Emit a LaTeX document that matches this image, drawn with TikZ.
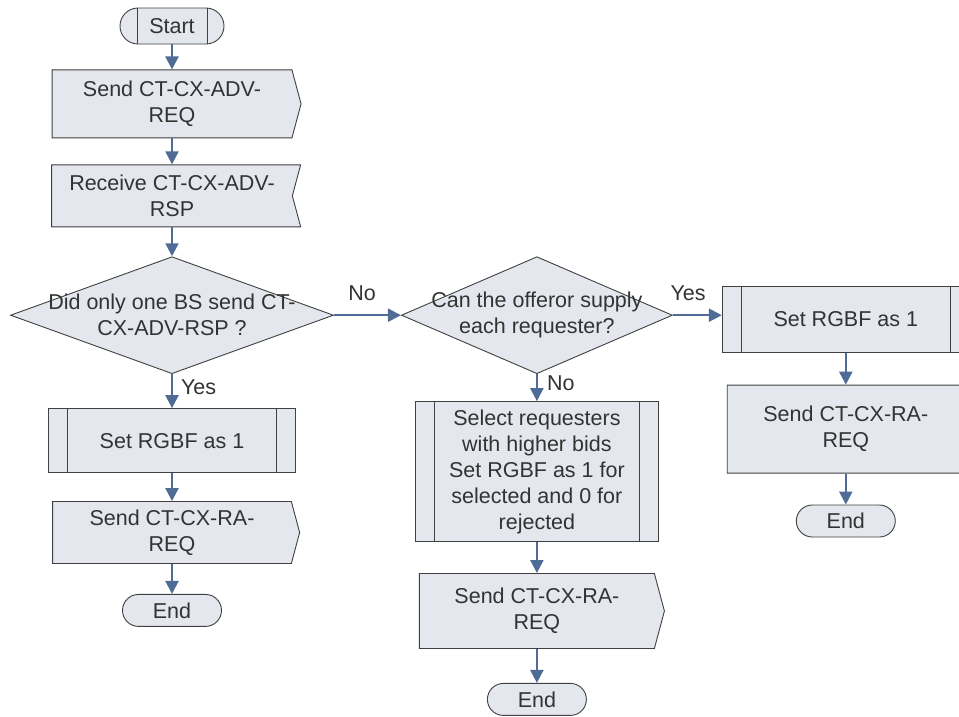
\documentclass[tikz,border=0pt]{standalone}
\usepackage{fontspec}
\setmainfont{Liberation Sans}
\usetikzlibrary{positioning,shapes.geometric,shapes.symbols,shapes.misc,arrows.meta}
\definecolor{boxfill}{RGB}{228,231,238}
\definecolor{boxline}{RGB}{64,64,64}
\definecolor{flow}{RGB}{79,108,150}
\definecolor{txt}{RGB}{51,51,51}

\begin{document}
\begin{tikzpicture}[x=1pt, y=-1pt, node distance=30pt,
  every node/.style={font=\fontsize{21.5}{26}\selectfont, text=txt},
  base/.style={draw=boxline, fill=boxfill, line width=0.9pt, align=center, inner sep=0pt},
  term/.style={base, rounded rectangle, minimum width=99pt, minimum height=32pt},
  startbox/.style={term, minimum width=104pt, minimum height=36pt,
    path picture={\draw[boxline, line width=0.9pt]
      ([xshift=17pt]path picture bounding box.north west) -- ([xshift=17pt]path picture bounding box.south west)
      ([xshift=-17pt]path picture bounding box.north east) -- ([xshift=-17pt]path picture bounding box.south east);}},
  send/.style={base, signal, signal to=east, signal pointer angle=150, minimum width=249pt, minimum height=68pt},
  recv/.style={base, signal, signal to=nowhere, signal from=east, signal pointer angle=150, minimum width=249pt, minimum height=62pt},
  proc/.style={base, rectangle, minimum width=247pt, minimum height=65pt,
    path picture={\draw[boxline, line width=0.9pt]
      ([xshift=19pt]path picture bounding box.north west) -- ([xshift=19pt]path picture bounding box.south west)
      ([xshift=-19pt]path picture bounding box.north east) -- ([xshift=-19pt]path picture bounding box.south east);}},
  decision/.style={base, diamond, minimum width=323pt, minimum height=117pt},
  flowline/.style={draw=flow, line width=2.2pt, -{Triangle[width=13pt,length=13pt]}},
  answer/.style={inner sep=0pt}]
\useasboundingbox (0,0) rectangle (959,716);

% left column
\node[startbox] (start) at (172,26) {Start};
\node[send, below=25pt of start] (advreq) {Send CT-CX-ADV-\\REQ};
\node[recv, below=26pt of advreq] (advrsp) {Receive CT-CX-ADV-\\RSP};
\node[decision, below=29pt of advrsp,
  label={[align=center]center:Did only one BS send CT-\\CX-ADV-RSP ?}] (onebs) {};
\node[proc, below=34pt of onebs, minimum height=64pt] (setl) {Set RGBF as 1};
\node[send, below=28pt of setl, minimum width=247pt, minimum height=62pt] (ral) {Send CT-CX-RA-\\REQ};
\node[term, below=30pt of ral] (endl) {End};

% middle column
\node[decision, right=67pt of onebs, minimum width=271pt,
  label={[align=center]center:Can the offeror supply\\each requester?}] (supply) {};
\node[proc, below=27pt of supply, minimum width=243pt, minimum height=140pt] (select)
  {Select requesters\\with higher bids\\Set RGBF as 1 for\\selected and 0 for\\rejected};
\node[send, below=31pt of select, minimum width=245pt, minimum height=75pt] (ram) {Send CT-CX-RA-\\REQ};
\node[term, below=34pt of ram] (endm) {End};

% right column
\node[proc, right=49pt of supply, yshift=-4pt, minimum height=66pt] (setr) {Set RGBF as 1};
\node[send, below=32pt of setr, minimum height=88pt] (rar) {Send CT-CX-RA-\\REQ};
\node[term, below=31pt of rar] (endr) {End};

\draw[flowline] (start.south) -- (advreq.north);
\draw[flowline] (advreq.south) -- (advrsp.north);
\draw[flowline] (advrsp.south) -- (onebs.north);
\draw[flowline] (onebs.south) -- node[answer, pos=0.38, anchor=west, xshift=8pt] {Yes} (setl.north);
\draw[flowline] (setl.south) -- (ral.north);
\draw[flowline] (ral.south) -- (endl.north);
\draw[flowline] (onebs.east) -- node[answer, pos=0.42, yshift=22pt] {No} (supply.west);
\draw[flowline] (supply.south) -- node[answer, pos=0.33, anchor=west, xshift=9pt] {No} (select.north);
\draw[flowline] (select.south) -- (ram.north);
\draw[flowline] (ram.south) -- (endm.north);
\draw[flowline] (supply.east) -- node[answer, pos=0.31, yshift=22pt] {Yes} (supply.east -| setr.west);
\draw[flowline] (setr.south) -- (rar.north);
\draw[flowline] (rar.south) -- (endr.north);
\end{tikzpicture}
\end{document}
